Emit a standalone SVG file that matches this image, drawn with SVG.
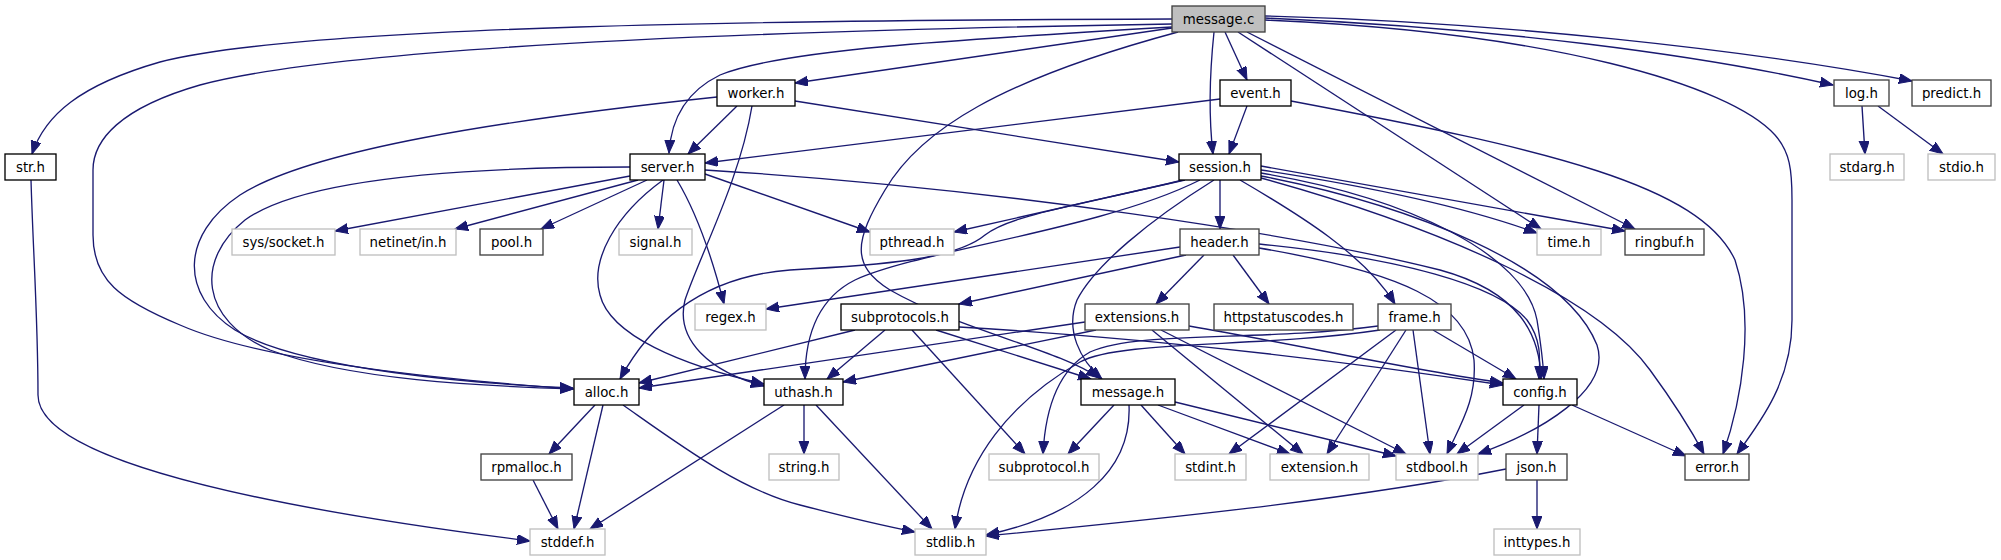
<svg xmlns="http://www.w3.org/2000/svg" width="2001" height="560" viewBox="0 0 2001 560">
<style>
rect{fill:#fff;stroke:#000;stroke-width:1.33}
.d rect{stroke:#404040}
.g rect{stroke:#bfbfbf}
.r rect{fill:#bfbfbf;stroke:#404040}
text{font-family:"DejaVu Sans","Liberation Sans",sans-serif;font-size:13.33px;text-anchor:middle;fill:#000}
#edges path{fill:none;stroke:#191970;stroke-width:1.33;marker-end:url(#a)}
</style>
<defs>
<marker id="a" markerUnits="userSpaceOnUse" markerWidth="14" markerHeight="11" refX="13" refY="5" orient="auto"><path d="M0,0 L13,5 L0,10 z" fill="#191970" stroke="#191970" stroke-width="1"/></marker>
</defs>
<rect x="0" y="0" width="2001" height="560" style="fill:#fff;stroke:none"/>
<g id="edges">
<path d="M1172,19 C800,20 300,25 160,62 C80,85 45,115 32,154"/>
<path d="M1172,24 C800,30 350,45 200,85 C120,108 93,140 93,170 L93,235 C93,280 120,300 180,325 C260,360 420,378 573,389"/>
<path d="M1172,27 C950,40 780,50 720,75 C685,92 671,120 669,153"/>
<path d="M1172,28 L795,83"/>
<path d="M1178,32 C1000,80 920,130 885,190 C855,240 850,265 890,290 C960,330 1060,350 1099,378"/>
<path d="M1214,32 C1209,80 1209,120 1213,154"/>
<path d="M1225,32 L1247,80"/>
<path d="M1238,32 L1541,229"/>
<path d="M1247,32 L1635,229"/>
<path d="M1265,18 C1500,28 1700,55 1833,85"/>
<path d="M1265,16 C1500,22 1750,50 1912,81"/>
<path d="M1265,20 C1550,32 1730,85 1775,135 C1790,152 1792,170 1792,200 L1792,320 C1792,380 1762,420 1737,454"/>
<path d="M737,106 L688,154"/>
<path d="M795,101 L1179,162"/>
<path d="M717,97 C500,120 310,150 240,195 C180,235 180,295 235,330 C300,370 480,384 573,388"/>
<path d="M752,106 C740,180 700,255 685,300 C675,340 710,372 764,386"/>
<path d="M1220,99 L705,163"/>
<path d="M1247,106 L1229,154"/>
<path d="M1291,101 C1550,150 1700,185 1735,260 C1755,320 1742,400 1723,454"/>
<path d="M1862,106 L1865,154"/>
<path d="M1878,106 L1943,154"/>
<path d="M31,180 C33,250 38,320 38,395 C38,465 300,512 530,541"/>
<path d="M630,167 C450,167 300,180 245,220 C195,260 200,320 270,350 C350,380 480,386 573,389"/>
<path d="M630,176 L335,231"/>
<path d="M638,180 L455,229"/>
<path d="M647,180 L541,229"/>
<path d="M664,180 L658,229"/>
<path d="M677,180 C698,215 714,265 724,304"/>
<path d="M705,174 L870,232"/>
<path d="M663,180 C615,215 590,260 600,295 C610,335 680,365 764,384"/>
<path d="M705,170 C1000,188 1300,235 1440,270 C1520,292 1540,335 1541,379"/>
<path d="M1185,180 L954,232"/>
<path d="M1183,180 C1080,205 1010,215 985,235 C955,260 880,265 790,270 C710,276 655,315 620,379"/>
<path d="M1200,180 C1100,230 920,250 855,280 C815,300 805,340 805,379"/>
<path d="M1214,180 C1150,220 1095,265 1077,300 C1065,330 1080,360 1102,379"/>
<path d="M1220,180 L1220,229"/>
<path d="M1240,180 C1300,215 1365,255 1395,304"/>
<path d="M1261,170 C1360,185 1460,205 1537,233"/>
<path d="M1261,166 L1625,231"/>
<path d="M1261,173 C1410,198 1525,255 1537,320 C1541,345 1543,360 1544,379"/>
<path d="M1261,176 C1410,205 1565,265 1597,345 C1612,390 1540,432 1478,454"/>
<path d="M1261,178 C1450,230 1600,300 1650,370 C1672,400 1690,428 1704,454"/>
<path d="M1180,247 L766,309"/>
<path d="M1186,255 L959,304"/>
<path d="M1204,255 L1156,304"/>
<path d="M1233,255 L1269,304"/>
<path d="M1259,244 C1400,258 1498,285 1527,320 C1542,340 1540,360 1539,379"/>
<path d="M1259,248 C1400,272 1468,302 1474,360 C1477,400 1460,425 1447,454"/>
<path d="M855,330 L639,383"/>
<path d="M885,330 L827,379"/>
<path d="M912,330 L1025,454"/>
<path d="M936,330 L1091,379"/>
<path d="M959,327 C1150,338 1350,362 1503,385"/>
<path d="M1085,322 L639,388"/>
<path d="M1096,330 L843,382"/>
<path d="M1152,330 L1303,454"/>
<path d="M1161,330 L1406,454"/>
<path d="M1189,326 C1300,345 1400,368 1503,383"/>
<path d="M1378,326 C1260,342 1140,330 1090,352 C1055,372 1045,415 1043,454"/>
<path d="M1380,330 C1260,348 1120,340 1080,362 C1010,402 965,460 955,529"/>
<path d="M1396,330 L1229,454"/>
<path d="M1406,330 L1327,454"/>
<path d="M1413,330 L1430,454"/>
<path d="M1433,330 L1516,379"/>
<path d="M1114,405 L1068,454"/>
<path d="M1129,405 C1132,470 1080,515 986,535"/>
<path d="M1141,405 L1185,454"/>
<path d="M1158,405 L1290,454"/>
<path d="M1175,402 L1396,456"/>
<path d="M595,405 L549,454"/>
<path d="M603,405 L574,529"/>
<path d="M623,405 C680,445 740,490 800,505 C850,518 880,525 915,532"/>
<path d="M784,405 L590,529"/>
<path d="M804,405 L804,454"/>
<path d="M816,405 L932,529"/>
<path d="M533,480 L558,529"/>
<path d="M1524,405 L1457,454"/>
<path d="M1539,405 L1537,454"/>
<path d="M1572,405 L1686,456"/>
<path d="M1506,469 C1350,500 1150,520 986,536"/>
<path d="M1537,480 L1537,529"/>
</g>
<g id="message_c" class="r"><rect x="1172" y="6" width="93" height="26"/><text x="1218.5" y="24">message.c</text></g>
<g id="worker_h"><rect x="717" y="80" width="78" height="26"/><text x="756" y="98">worker.h</text></g>
<g id="event_h"><rect x="1220" y="80" width="71" height="26"/><text x="1255.5" y="98">event.h</text></g>
<g id="log_h" class="d"><rect x="1834" y="80" width="55" height="26"/><text x="1861.5" y="98">log.h</text></g>
<g id="predict_h" class="d"><rect x="1912" y="80" width="79" height="26"/><text x="1951.5" y="98">predict.h</text></g>
<g id="str_h"><rect x="5" y="154" width="51" height="26"/><text x="30.5" y="172">str.h</text></g>
<g id="server_h"><rect x="630" y="154" width="75" height="26"/><text x="667.5" y="172">server.h</text></g>
<g id="session_h"><rect x="1179" y="154" width="82" height="26"/><text x="1220" y="172">session.h</text></g>
<g id="stdarg_h" class="g"><rect x="1830" y="154" width="74" height="26"/><text x="1867" y="172">stdarg.h</text></g>
<g id="stdio_h" class="g"><rect x="1928" y="154" width="67" height="26"/><text x="1961.5" y="172">stdio.h</text></g>
<g id="sys_socket_h" class="g"><rect x="232" y="229" width="103" height="26"/><text x="283.5" y="247">sys/socket.h</text></g>
<g id="netinet_in_h" class="g"><rect x="360" y="229" width="96" height="26"/><text x="408" y="247">netinet/in.h</text></g>
<g id="pool_h" class="d"><rect x="480" y="229" width="63" height="26"/><text x="511.5" y="247">pool.h</text></g>
<g id="signal_h" class="g"><rect x="619" y="229" width="73" height="26"/><text x="655.5" y="247">signal.h</text></g>
<g id="pthread_h" class="g"><rect x="870" y="229" width="84" height="26"/><text x="912" y="247">pthread.h</text></g>
<g id="header_h" class="d"><rect x="1180" y="229" width="79" height="26"/><text x="1219.5" y="247">header.h</text></g>
<g id="time_h" class="g"><rect x="1537" y="229" width="64" height="26"/><text x="1569" y="247">time.h</text></g>
<g id="ringbuf_h" class="d"><rect x="1625" y="229" width="79" height="26"/><text x="1664.5" y="247">ringbuf.h</text></g>
<g id="regex_h" class="g"><rect x="695" y="304" width="71" height="26"/><text x="730.5" y="322">regex.h</text></g>
<g id="subprotocols_h"><rect x="841" y="304" width="118" height="26"/><text x="900" y="322">subprotocols.h</text></g>
<g id="extensions_h" class="d"><rect x="1085" y="304" width="104" height="26"/><text x="1137" y="322">extensions.h</text></g>
<g id="httpstatuscodes_h" class="d"><rect x="1214" y="304" width="139" height="26"/><text x="1283.5" y="322">httpstatuscodes.h</text></g>
<g id="frame_h" class="d"><rect x="1378" y="304" width="73" height="26"/><text x="1414.5" y="322">frame.h</text></g>
<g id="alloc_h"><rect x="574" y="379" width="65" height="26"/><text x="606.5" y="397">alloc.h</text></g>
<g id="uthash_h"><rect x="764" y="379" width="79" height="26"/><text x="803.5" y="397">uthash.h</text></g>
<g id="message_h"><rect x="1081" y="379" width="94" height="26"/><text x="1128" y="397">message.h</text></g>
<g id="config_h"><rect x="1503" y="379" width="74" height="26"/><text x="1540" y="397">config.h</text></g>
<g id="rpmalloc_h" class="d"><rect x="481" y="454" width="91" height="26"/><text x="526.5" y="472">rpmalloc.h</text></g>
<g id="string_h" class="g"><rect x="769" y="454" width="70" height="26"/><text x="804" y="472">string.h</text></g>
<g id="subprotocol_h" class="g"><rect x="989" y="454" width="110" height="26"/><text x="1044" y="472">subprotocol.h</text></g>
<g id="stdint_h" class="g"><rect x="1175" y="454" width="71" height="26"/><text x="1210.5" y="472">stdint.h</text></g>
<g id="extension_h" class="g"><rect x="1270" y="454" width="99" height="26"/><text x="1319.5" y="472">extension.h</text></g>
<g id="stdbool_h" class="g"><rect x="1396" y="454" width="82" height="26"/><text x="1437" y="472">stdbool.h</text></g>
<g id="json_h" class="d"><rect x="1506" y="454" width="61" height="26"/><text x="1536.5" y="472">json.h</text></g>
<g id="error_h" class="d"><rect x="1685" y="454" width="64" height="26"/><text x="1717" y="472">error.h</text></g>
<g id="stddef_h" class="g"><rect x="530" y="529" width="75" height="26"/><text x="567.5" y="547">stddef.h</text></g>
<g id="stdlib_h" class="g"><rect x="915" y="529" width="71" height="26"/><text x="950.5" y="547">stdlib.h</text></g>
<g id="inttypes_h" class="g"><rect x="1494" y="529" width="86" height="26"/><text x="1537" y="547">inttypes.h</text></g>
</svg>
